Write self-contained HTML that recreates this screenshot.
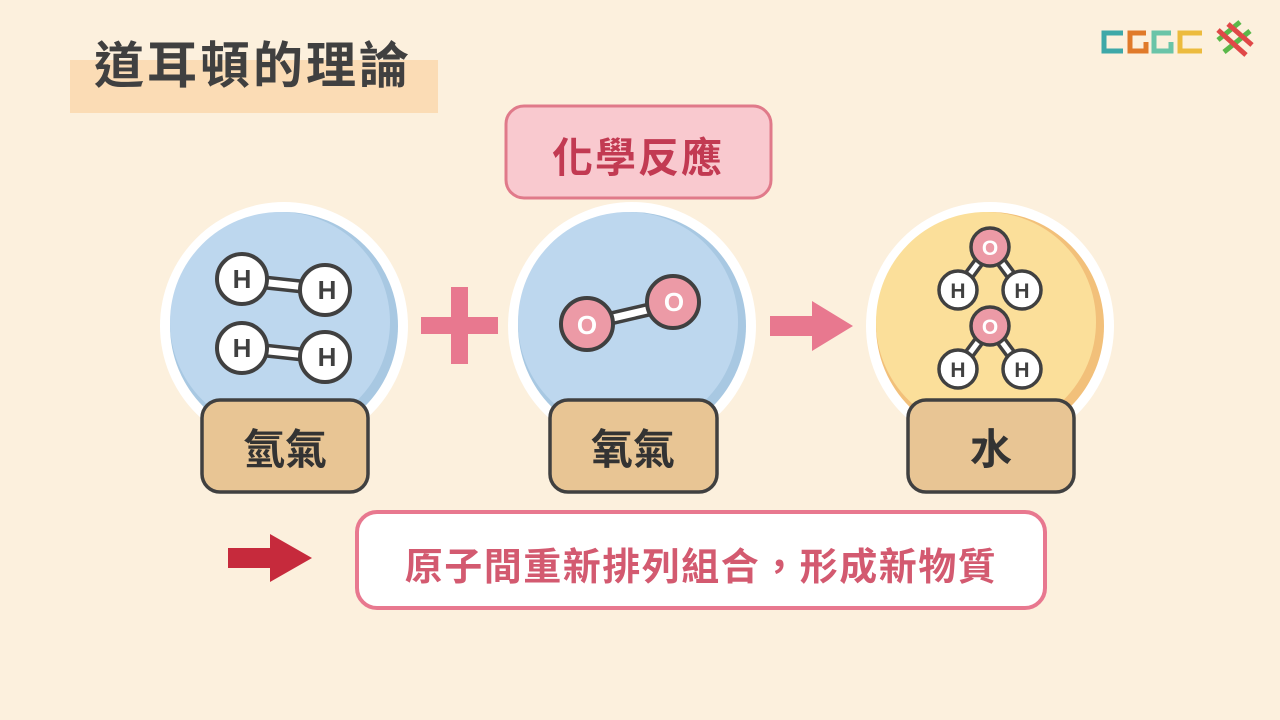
<!DOCTYPE html>
<html><head><meta charset="utf-8"><style>
html,body{margin:0;padding:0;background:#fcf0dd;}
svg{display:block;}
text{font-family:"Liberation Sans","Noto Sans CJK TC",sans-serif;font-weight:bold;}
</style></head><body>
<svg width="1280" height="720" viewBox="0 0 1280 720" xmlns="http://www.w3.org/2000/svg">
<rect width="1280" height="720" fill="#fcf0dd"/>
<rect x="70" y="60" width="368" height="53" fill="#fbdcb5"/>
<text x="94" y="83" font-size="50" fill="#404040" letter-spacing="3">道耳頓的理論</text>
<g stroke-width="5" fill="none">
<path d="M1123 33 H1104 V51 H1123" stroke="#3ea8a8"/>
<path d="M1146 33 H1130 V51 H1146 V42" stroke="#e07a2a"/>
<path d="M1171 33 H1154 V51 H1171 V42" stroke="#6ac4a8"/>
<path d="M1202 33 H1180 V51 H1202" stroke="#ecbb3e"/>
</g>
<g stroke-width="5" stroke-linecap="butt">
<path d="M1218 40 L1240 22 M1224 52 L1250 31" stroke="#5bb84a"/>
<path d="M1218 30 L1246 55 M1228 24 L1252 45" stroke="#e04848"/>
</g>
<rect x="506" y="106" width="265" height="92" rx="18" fill="#f9c9cf" stroke="#e07a8a" stroke-width="3"/>
<text x="638" y="172" font-size="41" fill="#c23a52" text-anchor="middle" letter-spacing="2">化學反應</text>
<g>
<circle cx="284" cy="326" r="124" fill="#fff"/>
<circle cx="284" cy="326" r="114" fill="#a8c8e2"/>
<circle cx="280" cy="322" r="110" fill="#bdd7ee"/>
<circle cx="632" cy="326" r="124" fill="#fff"/>
<circle cx="632" cy="326" r="114" fill="#a8c8e2"/>
<circle cx="628" cy="322" r="110" fill="#bdd7ee"/>
<circle cx="990" cy="326" r="124" fill="#fff"/>
<circle cx="990" cy="326" r="114" fill="#f2c07a"/>
<circle cx="986" cy="322" r="110" fill="#fbdf9a"/>
</g>
<g stroke="#404040" stroke-width="4">
<line x1="242" y1="280" x2="325" y2="289" stroke-width="14"/>
<line x1="242" y1="280" x2="325" y2="289" stroke="#fff" stroke-width="7"/>
<line x1="242" y1="348" x2="325" y2="357" stroke-width="14"/>
<line x1="242" y1="348" x2="325" y2="357" stroke="#fff" stroke-width="7"/>
<circle cx="242" cy="279" r="25" fill="#fff"/>
<circle cx="325" cy="290" r="25" fill="#fff"/>
<circle cx="242" cy="348" r="25" fill="#fff"/>
<circle cx="325" cy="357" r="25" fill="#fff"/>
</g>
<g font-size="26" fill="#404040" text-anchor="middle">
<text x="242" y="288">H</text><text x="327" y="299">H</text>
<text x="242" y="357">H</text><text x="327" y="366">H</text>
</g>
<g stroke="#404040" stroke-width="4">
<line x1="587" y1="324" x2="673" y2="304" stroke-width="14"/>
<line x1="587" y1="324" x2="673" y2="304" stroke="#fff" stroke-width="7"/>
<circle cx="587" cy="324" r="26" fill="#ec9aa6"/>
<circle cx="673" cy="302" r="26" fill="#ec9aa6"/>
</g>
<g font-size="26" fill="#fff" text-anchor="middle">
<text x="587" y="334">O</text><text x="674" y="311">O</text>
</g>
<g stroke="#404040" stroke-width="3.5">
<path d="M958 290 L990 247 L1022 290 M958 369 L990 326 L1022 369" stroke-width="12" fill="none"/>
<path d="M958 290 L990 247 L1022 290 M958 369 L990 326 L1022 369" stroke="#fff" stroke-width="5" fill="none"/>
<circle cx="990" cy="247" r="19" fill="#ec9aa6"/>
<circle cx="958" cy="290" r="19" fill="#fff"/>
<circle cx="1022" cy="290" r="19" fill="#fff"/>
<circle cx="990" cy="326" r="19" fill="#ec9aa6"/>
<circle cx="958" cy="369" r="19" fill="#fff"/>
<circle cx="1022" cy="369" r="19" fill="#fff"/>
</g>
<g font-size="21" text-anchor="middle">
<text x="990" y="255" fill="#fff">O</text><text x="990" y="334" fill="#fff">O</text>
<text x="958" y="298" fill="#404040">H</text><text x="1022" y="298" fill="#404040">H</text>
<text x="958" y="377" fill="#404040">H</text><text x="1022" y="377" fill="#404040">H</text>
</g>
<g stroke="#404040" stroke-width="3.5" fill="#e8c594">
<rect x="202" y="400" width="166" height="92" rx="18"/>
<rect x="550" y="400" width="167" height="92" rx="18"/>
<rect x="908" y="400" width="166" height="92" rx="18"/>
</g>
<g font-size="42" fill="#333" text-anchor="middle">
<text x="285" y="464">氫氣</text>
<text x="633" y="464">氧氣</text>
<text x="991" y="464">水</text>
</g>
<rect x="421" y="317" width="77" height="17" fill="#e8788f"/>
<rect x="451" y="287" width="17" height="77" fill="#e8788f"/>
<path d="M770 316 H812 V301 L853 326 L812 351 V336 H770 Z" fill="#e8788f"/>
<path d="M228 548 H270 V534 L312 558 L270 582 V568 H228 Z" fill="#c62a3c"/>
<rect x="357" y="512" width="688" height="96" rx="20" fill="#fff" stroke="#e8788f" stroke-width="4"/>
<text x="701" y="580" font-size="38" fill="#d35a70" text-anchor="middle" letter-spacing="1.5">原子間重新排列組合，形成新物質</text>
</svg>
</body></html>
